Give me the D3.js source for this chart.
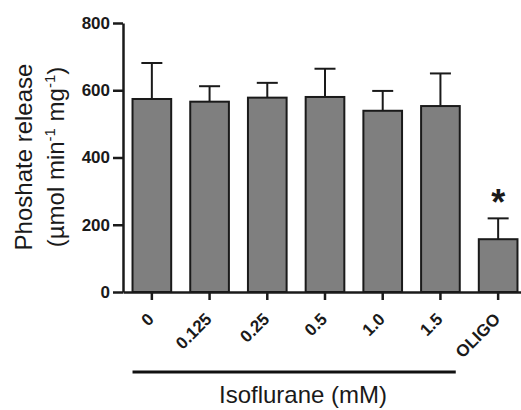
<!DOCTYPE html>
<html>
<head>
<meta charset="utf-8">
<script src="https://cdn.jsdelivr.net/npm/d3@7"></script>
<style>
  body { margin: 0; background: #fff; }
  text { font-family: Arial, "Liberation Sans", sans-serif; fill: #1a1a1a; }
</style>
</head>
<body>
<div id="chart"></div>
<script>
// values
var categories = ["0", "0.125", "0.25", "0.5", "1.0", "1.5", "OLIGO"]
var means = [574, 566, 578, 580, 539, 553, 157]
var sems = [107, 46, 44, 84, 59, 97, 62]
var yTicks = [0, 200, 400, 600, 800]
var starred = ["OLIGO"]
var groupLabel = "Isoflurane (mM)"
var groupCats = ["0", "0.125", "0.25", "0.5", "1.0", "1.5"]

var width = 521, height = 410

var svg = d3.select("#chart").append("svg")
    .attr("width", width)
    .attr("height", height)

var x = d3.scaleBand()
    .domain(categories)
    .range([123, 527])
    .paddingInner(0.33)
    .paddingOuter(0.165)

var y = d3.scaleLinear()
    .domain([0, 800])
    .range([292, 23])

var rows = categories.map(function (c, i) {
  return { cat: c, mean: means[i], sem: sems[i] }
})

function cx(c) { return x(c) + x.bandwidth() / 2 }

// bars
svg.selectAll(".bar")
    .data(rows)
    .enter().append("rect")
    .attr("class", "bar")
    .attr("x", function (d) { return x(d.cat) })
    .attr("width", x.bandwidth())
    .attr("y", function (d) { return y(d.mean) })
    .attr("height", function (d) { return y(0) - y(d.mean) })
    .attr("fill", "#7f7f7f")
    .attr("stroke", "#1a1a1a")
    .attr("stroke-width", 2)

// upper error bars
var err = svg.selectAll(".err")
    .data(rows)
    .enter().append("g")
    .attr("class", "err")
    .attr("stroke", "#1a1a1a")
    .attr("stroke-width", 2)

err.append("line")
    .attr("x1", function (d) { return cx(d.cat) })
    .attr("x2", function (d) { return cx(d.cat) })
    .attr("y1", function (d) { return y(d.mean) })
    .attr("y2", function (d) { return y(d.mean + d.sem) })

err.append("line")
    .attr("x1", function (d) { return cx(d.cat) - 10.5 })
    .attr("x2", function (d) { return cx(d.cat) + 10.5 })
    .attr("y1", function (d) { return y(d.mean + d.sem) })
    .attr("y2", function (d) { return y(d.mean + d.sem) })

// significance star
svg.selectAll(".star")
    .data(rows.filter(function (d) { return starred.indexOf(d.cat) >= 0 }))
    .enter().append("text")
    .attr("class", "star")
    .attr("x", function (d) { return cx(d.cat) })
    .attr("y", function (d) { return y(d.mean + d.sem) - 3 })
    .attr("text-anchor", "middle")
    .attr("font-size", 36)
    .attr("font-weight", "bold")
    .text("*")

// y axis
var yAxis = svg.append("g")
    .attr("transform", "translate(123,0)")
    .call(d3.axisLeft(y).tickValues(yTicks).tickSize(10).tickSizeOuter(0).tickPadding(3))
    .attr("font-size", 17)
    .attr("font-weight", "bold")
    .attr("font-family", null)

// x axis (labels drawn separately so they can be tilted)
var xAxis = svg.append("g")
    .attr("transform", "translate(0,292)")
    .call(d3.axisBottom(x).tickSize(8).tickSizeOuter(0))

xAxis.selectAll("text").remove()

svg.selectAll(".xlab")
    .data(categories)
    .enter().append("text")
    .attr("class", "xlab")
    .attr("transform", function (c) {
      return "translate(" + (cx(c) - 1) + ",316) rotate(-45)"
    })
    .attr("text-anchor", "end")
    .attr("dy", "0.35em")
    .attr("font-size", 17)
    .attr("font-weight", "bold")
    .text(function (c) { return c })

svg.selectAll(".domain, .tick line")
    .attr("stroke", "#1a1a1a")
    .attr("stroke-width", 2.5)

// group bracket under isoflurane doses
svg.append("line")
    .attr("x1", x(groupCats[0]))
    .attr("x2", x(groupCats[groupCats.length - 1]) + x.bandwidth() - 4)
    .attr("y1", 372)
    .attr("y2", 372)
    .attr("stroke", "#111")
    .attr("stroke-width", 3)

svg.append("text")
    .attr("x", 303)
    .attr("y", 403)
    .attr("text-anchor", "middle")
    .attr("font-size", 24)
    .text(groupLabel)

// y title, two lines
var yt = svg.append("text")
    .attr("transform", "translate(0,157) rotate(-90)")
    .attr("text-anchor", "middle")
    .attr("font-size", 24)

yt.append("tspan").attr("x", 0).attr("y", 32).text("Phoshate release")
var l2 = yt.append("tspan").attr("x", 0).attr("y", 64)
l2.append("tspan").text("(\u00b5mol min")
l2.append("tspan").attr("dy", -9).attr("font-size", 15).text("-1")
l2.append("tspan").attr("dy", 9).text(" mg")
l2.append("tspan").attr("dy", -9).attr("font-size", 15).text("-1")
l2.append("tspan").attr("dy", 9).text(")")
</script>
</body>
</html>
